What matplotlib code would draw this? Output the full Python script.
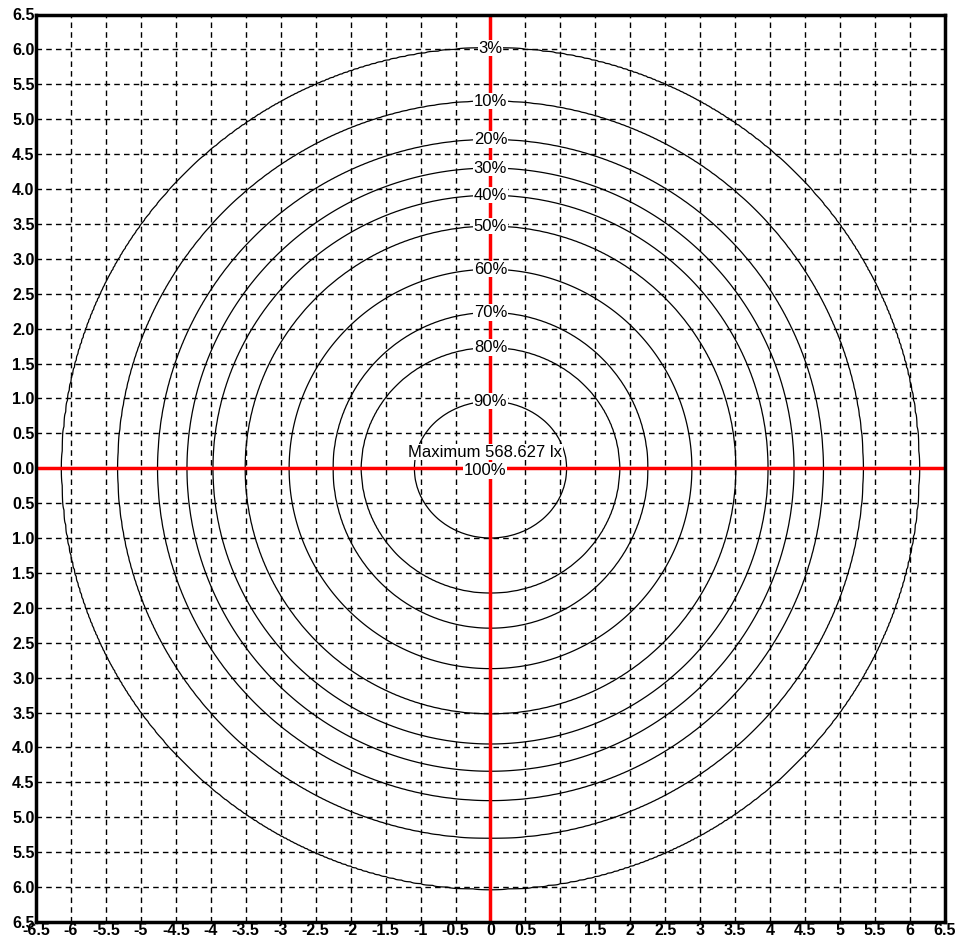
import numpy as np
import matplotlib
matplotlib.use('Agg')
import matplotlib.pyplot as plt

# isolux levels (percent of maximum) and radius of each contour in metres
levels = [3, 10, 20, 30, 40, 50, 60, 70, 80, 90]
radius_top = [6.02, 5.26, 4.71, 4.30, 3.91, 3.47, 2.85, 2.23, 1.73, 0.96]
radius_bottom = [6.03, 5.30, 4.76, 4.34, 3.95, 3.52, 2.87, 2.29, 1.79, 1.00]
radius_side = [6.13, 5.33, 4.76, 4.34, 3.97, 3.51, 2.88, 2.25, 1.85, 1.09]
max_lux = 568.627
ticks = np.arange(-6.5, 6.51, 0.5)

plt.rcParams['font.family'] = ['Liberation Sans', 'DejaVu Sans']

fig = plt.figure(figsize=(9.62, 9.44), dpi=100)
ax = fig.add_axes([36 / 962, 22 / 944, 909 / 962, 907.5 / 944])

# build an illuminance field whose contours pass through the read-off radii
x = np.linspace(-6.5, 6.5, 521)
y = np.linspace(-6.5, 6.5, 521)
X, Y = np.meshgrid(x, y)
R = np.hypot(X, Y)
ang = np.arctan2(Y, X)
rv = np.where(Y >= 0, np.array(radius_top)[:, None, None], np.array(radius_bottom)[:, None, None])
rh = np.array(radius_side)[:, None, None]
# elliptical blend between side and top/bottom radii
rl = 1.0 / np.sqrt((np.cos(ang) / rh) ** 2 + (np.sin(ang) / rv) ** 2)
Z = np.zeros_like(R)
lv = np.array(levels, dtype=float)
for i in range(R.shape[0]):
    for j in range(R.shape[1]):
        rr = rl[:, i, j][::-1]
        Z[i, j] = np.interp(R[i, j], np.concatenate([[0.0], rr, [rr[-1] + 1.5]]),
                            np.concatenate([[100.5], lv[::-1], [0.0]]))

ax.contour(X, Y, Z, levels=levels + [100], colors='black', linewidths=0.9)

ax.set_xlim(-6.5, 6.5)
ax.set_ylim(-6.5, 6.5)
ax.set_xticks(ticks)
ax.set_yticks(ticks)
ax.set_xticklabels(['%g' % t for t in ticks])
ax.set_yticklabels(['%.1f' % abs(t) for t in ticks])
ax.tick_params(length=0, labelsize=11.5, pad=1)
for lab in ax.get_xticklabels() + ax.get_yticklabels():
    lab.set_fontweight('bold')
ax.grid(True, color='black', linestyle=(0, (4, 3)), linewidth=1)
ax.set_axisbelow(True)

ax.axvline(0, color='red', linewidth=2.5, zorder=2)
ax.axhline(0, color='red', linewidth=2.5, zorder=2)

for s in ax.spines.values():
    s.set_linewidth(2.5)

bbox = dict(facecolor='white', edgecolor='none', pad=0.5)
for lvl, r in zip(levels, radius_top):
    ax.text(0, r, '%d%%' % lvl, ha='center', va='center', fontsize=12, bbox=bbox, zorder=4)
ax.text(-0.08, 0.23, 'Maximum %.3f lx' % max_lux, ha='center', va='center',
        fontsize=12, bbox=bbox, zorder=4)
ax.text(-0.08, -0.03, '100%', ha='center', va='center', fontsize=12, bbox=bbox, zorder=4)

fig.savefig('out.png', dpi=100)
